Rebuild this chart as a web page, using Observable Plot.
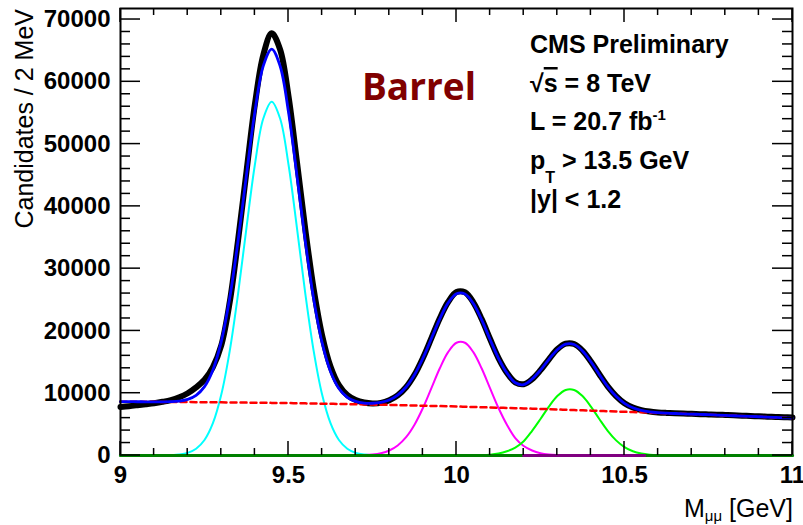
<!DOCTYPE html>
<html>
<head>
<meta charset="utf-8">
<script src="https://cdn.jsdelivr.net/npm/d3@7"></script>
<script src="https://cdn.jsdelivr.net/npm/@observablehq/plot@0.6"></script>
<style>
  html, body { margin: 0; padding: 0; background: white; }
  g[aria-label="x-axis tick label"], g[aria-label="y-axis tick label"] {
    font-size: 24px; font-weight: bold; font-family: "Liberation Sans", Arial, Helvetica, sans-serif;
  }
</style>
</head>
<body>
<div id="chart"></div>
<script>
// ---- data ----
const mass = [
  9.000, 9.025, 9.050, 9.075, 9.100, 9.125, 9.150, 9.175, 9.200, 9.225,
  9.250, 9.275, 9.300, 9.325, 9.350, 9.375, 9.400, 9.425, 9.450, 9.475,
  9.500, 9.525, 9.550, 9.575, 9.600, 9.625, 9.650, 9.675, 9.700, 9.725,
  9.750, 9.775, 9.800, 9.825, 9.850, 9.875, 9.900, 9.925, 9.950, 9.975,
  10.000, 10.025, 10.050, 10.075, 10.100, 10.125, 10.150, 10.175, 10.200, 10.225,
  10.250, 10.275, 10.300, 10.325, 10.350, 10.375, 10.400, 10.425, 10.450, 10.475,
  10.500, 10.525, 10.550, 10.575, 10.600, 10.625, 10.650, 10.675, 10.700, 10.725,
  10.750, 10.775, 10.800, 10.825, 10.850, 10.875, 10.900, 10.925, 10.950, 10.975,
  11.000
];
const dataCounts = [
  7800, 7920, 8070, 8230, 8400, 8620, 8900, 9350, 10000, 10950,
  12150, 14200, 17700, 24600, 34600, 45600, 56400, 64300, 67800, 65200,
  57700, 47200, 36300, 26700, 19300, 14300, 11300, 9700, 8900, 8500,
  8350, 8450, 8880, 9650, 10950, 12950, 15650, 18800, 22000, 24650,
  26250, 26200, 24600, 21900, 18700, 15650, 13300, 11750, 11450, 12250,
  13700, 15450, 17050, 17950, 17900, 16850, 15100, 13050, 11100, 9550,
  8400, 7700, 7280, 7050, 6920, 6840, 6780, 6730, 6690, 6640,
  6600, 6560, 6510, 6460, 6400, 6350, 6290, 6240, 6190, 6140,
  6100
];
const fitTotal = [
  8650, 8641, 8632, 8623, 8614, 8620, 8646, 8742, 9008, 9659,
  11050, 13736, 18322, 25278, 34504, 45090, 55196, 62562, 65248, 62534,
  55140, 44996, 34372, 25108, 18114, 13490, 10766, 9349, 8679, 8419,
  8386, 8533, 8921, 9694, 10996, 12965, 15614, 18743, 21902, 24501,
  25970, 25936, 24409, 21772, 18624, 15608, 13259, 11677, 11378, 12282,
  13709, 15440, 16988, 17883, 17823, 16790, 15054, 13018, 11072, 9496,
  8374, 7656, 7239, 7009, 6881, 6802, 6743, 6691, 6644, 6597,
  6550, 6495, 6440, 6385, 6330, 6275, 6220, 6165, 6110, 6055,
  6000
];
const background = [
  8650, 8641, 8632, 8623, 8614, 8605, 8596, 8587, 8578, 8569,
  8560, 8546, 8532, 8518, 8504, 8490, 8476, 8462, 8448, 8434,
  8420, 8396, 8372, 8348, 8324, 8300, 8276, 8252, 8228, 8204,
  8180, 8149, 8118, 8087, 8056, 8025, 7994, 7963, 7932, 7901,
  7870, 7831, 7792, 7753, 7714, 7675, 7636, 7597, 7558, 7519,
  7480, 7434, 7388, 7342, 7296, 7250, 7204, 7158, 7112, 7066,
  7020, 6973, 6926, 6879, 6832, 6785, 6738, 6691, 6644, 6597,
  6550, 6495, 6440, 6385, 6330, 6275, 6220, 6165, 6110, 6055,
  6000
];
const ups1S = [
  0, 0, 0, 0, 0, 15, 50, 155, 430, 1090,
  2490, 5190, 9790, 16760, 26000, 36600, 46720, 54100, 56800, 54100,
  46720, 36600, 26000, 16760, 9790, 5190, 2490, 1090, 430, 155,
  50, 15, 0, 0, 0, 0, 0, 0, 0, 0,
  0, 0, 0, 0, 0, 0, 0, 0, 0, 0,
  0, 0, 0, 0, 0, 0, 0, 0, 0, 0,
  0, 0, 0, 0, 0, 0, 0, 0, 0, 0,
  0, 0, 0, 0, 0, 0, 0, 0, 0, 0,
  0
];
const ups2S = [
  0, 0, 0, 0, 0, 0, 0, 0, 0, 0,
  0, 0, 0, 0, 0, 0, 0, 0, 0, 0,
  0, 0, 0, 0, 0, 0, 0, 7, 21, 60,
  156, 369, 803, 1607, 2940, 4940, 7620, 10780, 13970, 16600,
  18100, 18100, 16600, 13970, 10780, 7620, 4940, 2800, 1520, 803,
  369, 156, 60, 21, 7, 0, 0, 0, 0, 0,
  0, 0, 0, 0, 0, 0, 0, 0, 0, 0,
  0, 0, 0, 0, 0, 0, 0, 0, 0, 0,
  0
];
const ups3S = [
  0, 0, 0, 0, 0, 0, 0, 0, 0, 0,
  0, 0, 0, 0, 0, 0, 0, 0, 0, 0,
  0, 0, 0, 0, 0, 0, 0, 0, 0, 0,
  0, 0, 0, 0, 0, 0, 0, 0, 0, 0,
  0, 5, 17, 49, 130, 313, 683, 1280, 2300, 3960,
  5860, 7850, 9540, 10520, 10520, 9540, 7850, 5860, 3960, 2430,
  1354, 683, 313, 130, 49, 17, 5, 0, 0, 0,
  0, 0, 0, 0, 0, 0, 0, 0, 0, 0,
  0
];
// flat zero-valued components drawn along the bottom
const zeroGreenMass = [9.0, 11.0];
const zeroGreenValue = [0, 0];
const zeroPurpleMass = [10.2, 10.56];
const zeroPurpleValue = [0, 0];

// ticks
const xMajorTicks = [9, 9.5, 10, 10.5, 11];
const xMinorTicks = [9.1, 9.2, 9.3, 9.4, 9.6, 9.7, 9.8, 9.9, 10.1, 10.2, 10.3, 10.4, 10.6, 10.7, 10.8, 10.9];
const yMajorTicks = [0, 10000, 20000, 30000, 40000, 50000, 60000, 70000];
const yMinorTicks = [2000, 4000, 6000, 8000, 12000, 14000, 16000, 18000, 22000, 24000, 26000, 28000,
  32000, 34000, 36000, 38000, 42000, 44000, 46000, 48000, 52000, 54000, 56000, 58000,
  62000, 64000, 66000, 68000];
const xDomain = [9, 11];
const yDomain = [0, 71770];

// texts
const yTitle = "Candidates / 2 MeV";
const xTitle = ["M", "μμ", " [GeV]"];
const regionLabel = "Barrel";
const infoLines = ["CMS Preliminary", "√s = 8 TeV", "L = 20.7 fb-1", "pT > 13.5 GeV", "|y| < 1.2"];

// ---- build ----
const W = 803, H = 525, ML = 120, MR = 11, MT = 8, MB = 70;

const rows = mass.map((m, i) => ({
  m, data: dataCounts[i], fit: fitTotal[i], bkg: background[i],
  s1: ups1S[i], s2: ups2S[i], s3: ups3S[i]
}));
const zg = zeroGreenMass.map((m, i) => ({m, v: zeroGreenValue[i]}));
const zp = zeroPurpleMass.map((m, i) => ({m, v: zeroPurpleValue[i]}));
const curve = "catmull-rom";

const chart = Plot.plot({
  width: W,
  height: H,
  marginLeft: ML,
  marginRight: MR,
  marginTop: MT,
  marginBottom: MB,
  x: {domain: xDomain},
  y: {domain: yDomain},
  style: {fontFamily: "Liberation Sans, Arial, Helvetica, sans-serif", background: "white", color: "black", overflow: "visible"},
  marks: [
    Plot.line(rows, {x: "m", y: "data", stroke: "black", strokeWidth: 6, curve}),
    Plot.line(rows, {x: "m", y: "s1", stroke: "#00ffff", strokeWidth: 2, curve}),
    Plot.line(rows, {x: "m", y: "s2", stroke: "#ff00ff", strokeWidth: 2, curve}),
    Plot.line(rows, {x: "m", y: "s3", stroke: "#00ff00", strokeWidth: 2, curve}),
    Plot.line(rows, {x: "m", y: "bkg", stroke: "#ff0000", strokeWidth: 2.5, strokeDasharray: "6,4", curve}),
    Plot.line(rows, {x: "m", y: "fit", stroke: "#0000ff", strokeWidth: 2.8, curve}),
    Plot.frame({stroke: "black", strokeWidth: 2}),
    Plot.line(zg, {x: "m", y: "v", stroke: "#008000", strokeWidth: 3}),
    Plot.line(zp, {x: "m", y: "v", stroke: "#800080", strokeWidth: 3}),
    Plot.axisY({ticks: yMajorTicks, tickSize: 0, tickPadding: 10, tickFormat: d => String(d), label: null}),
    Plot.axisX({ticks: xMajorTicks, tickSize: 0, tickPadding: 10, tickFormat: d => String(d), label: null})
  ]
});
document.getElementById("chart").appendChild(chart);

// ---- inward ticks, placed through the plot's own scales ----
const svg = d3.select(chart);
const sx = chart.scale("x"), sy = chart.scale("y");
const xL = sx.apply(xDomain[0]), xR = sx.apply(xDomain[1]);
const yB = sy.apply(yDomain[0]), yT = sy.apply(yDomain[1]);
const tg = svg.append("g").attr("stroke", "black").attr("stroke-width", 1.5);
function yTicks(vals, len) {
  for (const v of vals) {
    const y = sy.apply(v);
    tg.append("line").attr("x1", xL).attr("x2", xL + len).attr("y1", y).attr("y2", y);
    tg.append("line").attr("x1", xR).attr("x2", xR - len).attr("y1", y).attr("y2", y);
  }
}
function xTicks(vals, len) {
  for (const v of vals) {
    const x = sx.apply(v);
    tg.append("line").attr("x1", x).attr("x2", x).attr("y1", yB).attr("y2", yB - len);
    tg.append("line").attr("x1", x).attr("x2", x).attr("y1", yT).attr("y2", yT + len);
  }
}
yTicks(yMajorTicks, 20);
yTicks(yMinorTicks, 10);
xTicks(xMajorTicks, 14);
xTicks(xMinorTicks, 7);

// ---- text annotations ----
const g = svg.append("g").attr("font-family", "Liberation Sans, Arial, Helvetica, sans-serif")
  .attr("fill", "black").attr("text-anchor", "start");

g.append("text")
  .attr("transform", "translate(33,9) rotate(-90)")
  .attr("text-anchor", "end").attr("font-size", 25)
  .text(yTitle);

const xt = g.append("text").attr("x", 793).attr("y", 517).attr("text-anchor", "end").attr("font-size", 25);
xt.append("tspan").text(xTitle[0]);
xt.append("tspan").attr("font-size", 15).attr("dy", 4).text(xTitle[1]);
xt.append("tspan").attr("dy", -4).text(xTitle[2]);

g.append("text").attr("x", 362).attr("y", 100).attr("text-anchor", "start")
  .attr("font-family", "Open Sans, Lato, sans-serif").attr("font-weight", 700).attr("font-size", 37)
  .attr("fill", "#800000").text(regionLabel);

const info = g.append("g").attr("font-weight", "bold").attr("font-size", 25).attr("text-anchor", "start");
const x0 = 530;
info.append("text").attr("x", x0).attr("y", 53).text(infoLines[0]);
const l2 = info.append("text").attr("x", x0).attr("y", 92);
l2.append("tspan").text(infoLines[1].slice(0, 1));
l2.append("tspan").attr("text-decoration", "overline").text(infoLines[1].slice(1, 2));
l2.append("tspan").text(infoLines[1].slice(2));
const l3 = info.append("text").attr("x", x0).attr("y", 130);
l3.append("tspan").text(infoLines[2].slice(0, 11));
l3.append("tspan").attr("font-size", 15).attr("dy", -10).text(infoLines[2].slice(11));
const l4 = info.append("text").attr("x", x0).attr("y", 169);
l4.append("tspan").text(infoLines[3].slice(0, 1));
l4.append("tspan").attr("font-size", 16).attr("dy", 14).text(infoLines[3].slice(1, 2));
l4.append("tspan").attr("dy", -14).text(infoLines[3].slice(2));
info.append("text").attr("x", x0).attr("y", 208).text(infoLines[4]);
</script>
</body>
</html>
